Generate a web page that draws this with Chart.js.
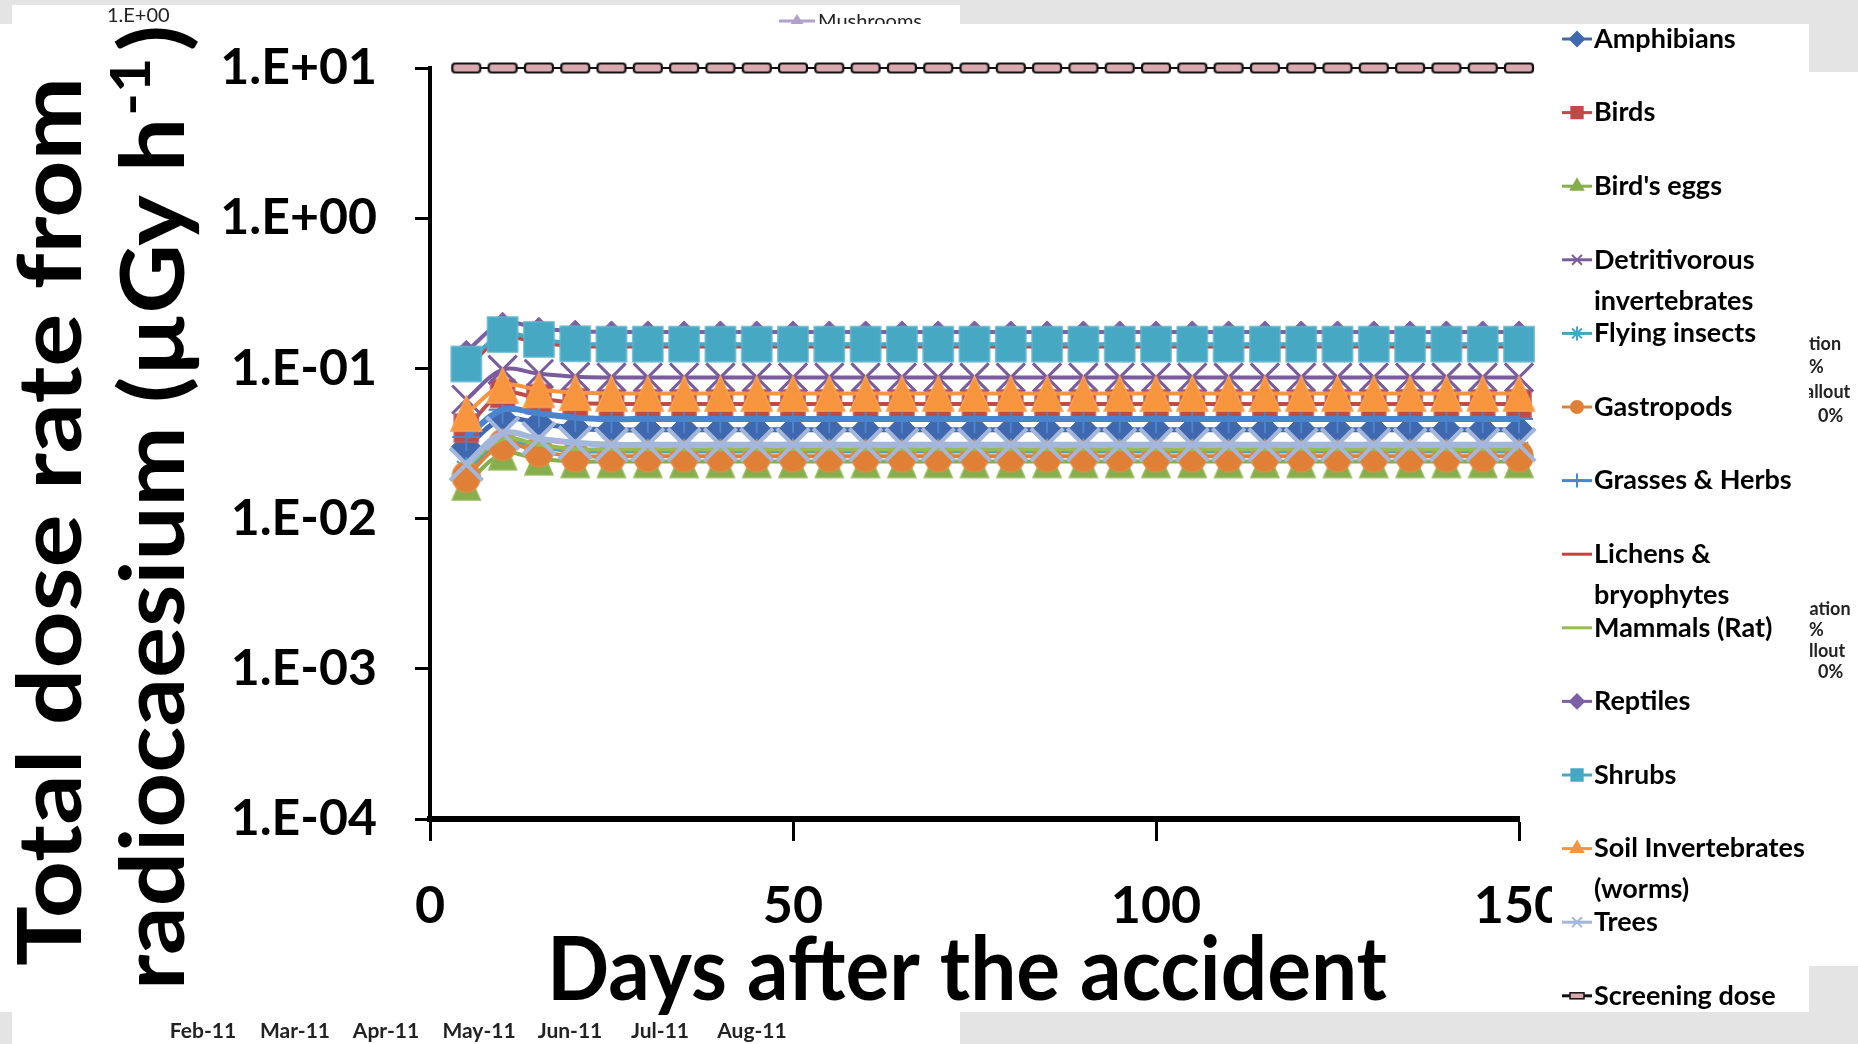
<!DOCTYPE html>
<html>
<head>
<meta charset="utf-8">
<script src="https://cdn.jsdelivr.net/npm/chart.js@4.4.1/dist/chart.umd.min.js"></script>
<style>
html, body { margin: 0; padding: 0; background: #e4e4e4; overflow: hidden; }
canvas { display: block; }
</style>
</head>
<body>
<canvas id="graficaDosis" width="1858" height="1044"></canvas>
<script>
// Días después del accidente (un punto cada 5 días)
const dias = [5, 10, 15, 20, 25, 30, 35, 40, 45, 50,
              55, 60, 65, 70, 75, 80, 85, 90, 95, 100,
              105, 110, 115, 120, 125, 130, 135, 140, 145, 150];

// Tasa de dosis total (µGy/h)
const amphibians = [0.030, 0.046, 0.043, 0.040, 0.039, 0.039, 0.039, 0.039, 0.039, 0.039,
                    0.039, 0.039, 0.039, 0.039, 0.039, 0.039, 0.039, 0.039, 0.039, 0.039,
                    0.039, 0.039, 0.039, 0.039, 0.039, 0.039, 0.039, 0.039, 0.039, 0.039];
const birds = [0.040, 0.068, 0.063, 0.059, 0.058, 0.058, 0.058, 0.058, 0.058, 0.058,
               0.058, 0.058, 0.058, 0.058, 0.058, 0.058, 0.058, 0.058, 0.058, 0.058,
               0.058, 0.058, 0.058, 0.058, 0.058, 0.058, 0.058, 0.058, 0.058, 0.058];
const birdsEggs = [0.017, 0.027, 0.025, 0.024, 0.024, 0.024, 0.024, 0.024, 0.024, 0.024,
                   0.024, 0.024, 0.024, 0.024, 0.024, 0.024, 0.024, 0.024, 0.024, 0.024,
                   0.024, 0.024, 0.024, 0.024, 0.024, 0.024, 0.024, 0.024, 0.024, 0.024];
const detritivorous = [0.062, 0.098, 0.092, 0.088, 0.087, 0.087, 0.087, 0.087, 0.087, 0.087,
                       0.087, 0.087, 0.087, 0.087, 0.087, 0.087, 0.087, 0.087, 0.087, 0.087,
                       0.087, 0.087, 0.087, 0.087, 0.087, 0.087, 0.087, 0.087, 0.087, 0.087];
const flyingInsects = [0.021, 0.032, 0.030, 0.028, 0.028, 0.028, 0.028, 0.028, 0.028, 0.028,
                       0.028, 0.028, 0.028, 0.028, 0.028, 0.028, 0.028, 0.028, 0.028, 0.028,
                       0.028, 0.028, 0.028, 0.028, 0.028, 0.028, 0.028, 0.028, 0.028, 0.028];
const gastropods = [0.019, 0.031, 0.028, 0.026, 0.026, 0.026, 0.026, 0.026, 0.026, 0.026,
                    0.026, 0.026, 0.026, 0.026, 0.026, 0.026, 0.026, 0.026, 0.026, 0.026,
                    0.026, 0.026, 0.026, 0.026, 0.026, 0.026, 0.026, 0.026, 0.026, 0.026];
const grasses = [0.035, 0.053, 0.050, 0.047, 0.046, 0.046, 0.046, 0.046, 0.046, 0.046,
                 0.046, 0.046, 0.046, 0.046, 0.046, 0.046, 0.046, 0.046, 0.046, 0.046,
                 0.046, 0.046, 0.046, 0.046, 0.046, 0.046, 0.046, 0.046, 0.046, 0.046];
const lichens = [0.100, 0.160, 0.148, 0.141, 0.140, 0.140, 0.140, 0.140, 0.140, 0.140,
                 0.140, 0.140, 0.140, 0.140, 0.140, 0.140, 0.140, 0.140, 0.140, 0.140,
                 0.140, 0.140, 0.140, 0.140, 0.140, 0.140, 0.140, 0.140, 0.140, 0.140];
const mammals = [0.022, 0.034, 0.031, 0.029, 0.029, 0.029, 0.029, 0.029, 0.029, 0.029,
                 0.029, 0.029, 0.029, 0.029, 0.029, 0.029, 0.029, 0.029, 0.029, 0.029,
                 0.029, 0.029, 0.029, 0.029, 0.029, 0.029, 0.029, 0.029, 0.029, 0.029];
const reptiles = [0.130, 0.200, 0.185, 0.177, 0.175, 0.175, 0.175, 0.175, 0.175, 0.175,
                  0.175, 0.175, 0.175, 0.175, 0.175, 0.175, 0.175, 0.175, 0.175, 0.175,
                  0.175, 0.175, 0.175, 0.175, 0.175, 0.175, 0.175, 0.175, 0.175, 0.175];
const shrubs = [0.107, 0.168, 0.156, 0.146, 0.145, 0.145, 0.145, 0.145, 0.145, 0.145,
                0.145, 0.145, 0.145, 0.145, 0.145, 0.145, 0.145, 0.145, 0.145, 0.145,
                0.145, 0.145, 0.145, 0.145, 0.145, 0.145, 0.145, 0.145, 0.145, 0.145];
const soilInvertebrates = [0.050, 0.077, 0.072, 0.069, 0.068, 0.068, 0.068, 0.068, 0.068, 0.068,
                           0.068, 0.068, 0.068, 0.068, 0.068, 0.068, 0.068, 0.068, 0.068, 0.068,
                           0.068, 0.068, 0.068, 0.068, 0.068, 0.068, 0.068, 0.068, 0.068, 0.068];
const trees = [0.023, 0.037, 0.034, 0.032, 0.031, 0.031, 0.031, 0.031, 0.031, 0.031,
               0.031, 0.031, 0.031, 0.031, 0.031, 0.031, 0.031, 0.031, 0.031, 0.031,
               0.031, 0.031, 0.031, 0.031, 0.031, 0.031, 0.031, 0.031, 0.031, 0.031];
const screeningDose = [10, 10, 10, 10, 10, 10, 10, 10, 10, 10,
                       10, 10, 10, 10, 10, 10, 10, 10, 10, 10,
                       10, 10, 10, 10, 10, 10, 10, 10, 10, 10];

const nombresSeries = ['Amphibians', 'Birds', "Bird's eggs", 'Detritivorous invertebrates',
    'Flying insects', 'Gastropods', 'Grasses & Herbs', 'Lichens & bryophytes',
    'Mammals (Rat)', 'Reptiles', 'Shrubs', 'Soil Invertebrates (worms)', 'Trees', 'Screening dose'];
const valoresSeries = [amphibians, birds, birdsEggs, detritivorous, flyingInsects, gastropods,
    grasses, lichens, mammals, reptiles, shrubs, soilInvertebrates, trees, screeningDose];

const yTicks = [1e-4, 1e-3, 1e-2, 1e-1, 1, 10];
const yTickLabels = ['1.E-04', '1.E-03', '1.E-02', '1.E-01', '1.E+00', '1.E+01'];
const xTicks = [0, 50, 100, 150];

// Textos sueltos de la diapositiva que queda debajo
const mesesFondo = ['Feb-11', 'Mar-11', 'Apr-11', 'May-11', 'Jun-11', 'Jul-11', 'Aug-11'];

// Marcadores algo más altos que anchos, como en la imagen original
function crearMarca(ancho, alto, relleno, borde, forma) {
    const cv = document.createElement('canvas');
    cv.width = ancho + 4;
    cv.height = alto + 4;
    const m = cv.getContext('2d');
    m.fillStyle = relleno;
    m.strokeStyle = borde;
    m.lineWidth = forma === 'pastilla' ? 2.2 : 1.5;
    m.beginPath();
    if (forma === 'rect') {
        m.rect(2, 2, ancho, alto);
    } else if (forma === 'tri') {
        m.moveTo(2 + ancho / 2, 2);
        m.lineTo(2 + ancho, 2 + alto);
        m.lineTo(2, 2 + alto);
        m.closePath();
    } else if (forma === 'elipse') {
        m.ellipse(2 + ancho / 2, 2 + alto / 2, ancho / 2, alto / 2, 0, 0, Math.PI * 2);
    } else {
        if (m.roundRect) m.roundRect(2, 2, ancho, alto, 3); else m.rect(2, 2, ancho, alto);
    }
    m.fill();
    m.stroke();
    return cv;
}

// Estilos de cada serie (mismo orden que nombresSeries)
const estilos = [
    { color: '#3F68AE', punto: 'rectRot', radio: 15, grosor: 5, borde: 1, ley: 'rectRot' },
    { color: '#BE4B48', punto: crearMarca(24, 28, '#BE4B48', '#C55A57', 'rect'), radio: 6, grosor: 4, borde: 1, ley: 'rect' },
    { color: '#86AE4C', punto: crearMarca(28, 32, '#86AE4C', '#93B85A', 'tri'), radio: 6, grosor: 4, borde: 1, ley: 'triangle' },
    { color: '#7A5C9E', punto: 'crossRot', radio: 20, grosor: 4, borde: 3, ley: 'crossRot' },
    { color: '#45A5C2', punto: 'star', radio: 13, grosor: 4, borde: 2, ley: 'star' },
    { color: '#E07F36', punto: crearMarca(28, 31, '#E07F36', '#E58A45', 'elipse'), radio: 6, grosor: 4, borde: 1, ley: 'circle' },
    { color: '#4A84CC', punto: 'cross', radio: 14, grosor: 6, borde: 2, ley: 'cross' },
    { color: '#C8413D', punto: 'circle', radio: 0, grosor: 4, borde: 0, ley: null },
    { color: '#98BA55', punto: 'circle', radio: 0, grosor: 4, borde: 0, ley: null },
    { color: '#7D5FA6', punto: 'rectRot', radio: 11, grosor: 4, borde: 1, ley: 'rectRot' },
    { color: '#47A8C4', punto: crearMarca(30, 35, '#47A8C4', '#5BB4CC', 'rect'), radio: 6, grosor: 4, borde: 1, ley: 'rect' },
    { color: '#F7953F', punto: crearMarca(31, 35, '#F7953F', '#F9A050', 'tri'), radio: 6, grosor: 4, borde: 1, ley: 'triangle' },
    { color: '#A3B6DB', punto: 'crossRot', radio: 23, grosor: 6, borde: 4, ley: 'crossRot' },
    { color: '#111111', punto: crearMarca(28, 9, '#D9A9AF', '#111', 'pastilla'), radio: 6, grosor: 2, borde: 1, ley: 'pastilla' }
];

const N = nombresSeries.length;
const datasets = valoresSeries.map(function(vals, i) {
    const e = estilos[i];
    return {
        label: nombresSeries[i],
        data: vals.map((v, j) => ({ x: dias[j], y: v })),
        borderColor: e.color,
        backgroundColor: e.color,
        borderWidth: e.grosor,
        pointStyle: e.punto,
        pointRadius: e.radio,
        pointBackgroundColor: e.color,
        pointBorderColor: e.color,
        pointBorderWidth: e.borde,
        tension: i === N - 1 ? 0 : 0.35,
        clip: false,
        order: N - i // las series posteriores quedan encima, como en Excel
    };
});

// Texto estirado para ocupar un ancho dado
function textoAjustado(c, txt, x, y, ancho, rot) {
    c.save();
    c.translate(x, y);
    if (rot) c.rotate(rot);
    const k = ancho / c.measureText(txt).width;
    c.scale(k, 1);
    c.fillText(txt, 0, 0);
    c.restore();
    return k;
}

function partirTexto(c, txt, maxAncho) {
    const palabras = txt.split(' ');
    const lineas = [];
    let actual = '';
    palabras.forEach(function(p) {
        const prueba = actual ? actual + ' ' + p : p;
        if (actual && c.measureText(prueba).width > maxAncho) {
            lineas.push(actual);
            actual = p;
        } else {
            actual = prueba;
        }
    });
    if (actual) lineas.push(actual);
    return lineas;
}

const fondoDiapositiva = {
    id: 'fondoDiapositiva',
    beforeDraw(chart) {
        const c = chart.ctx;
        c.save();
        c.fillStyle = '#e4e4e4';
        c.fillRect(0, 0, chart.width, chart.height);
        c.fillStyle = '#ffffff';
        c.fillRect(12, 5, 948, 1039);
        c.fillRect(1809, 72, 49, 894);

        // restos del gráfico de abajo
        c.fillStyle = '#222';
        c.textBaseline = 'middle';
        c.font = '20px Lato';
        c.fillText('1.E+00', 107, 16);
        c.fillText('Mushrooms', 818, 22);
        c.strokeStyle = '#B1A0C7';
        c.lineWidth = 3;
        c.beginPath(); c.moveTo(779, 21); c.lineTo(815, 21); c.stroke();
        c.fillStyle = '#B1A0C7';
        c.beginPath(); c.moveTo(797, 14); c.lineTo(804, 25); c.lineTo(790, 25); c.fill();

        c.fillStyle = '#222';
        c.font = 'bold 21px Lato';
        c.textAlign = 'center';
        const xMeses = [203, 295, 386, 479, 570, 660, 752];
        mesesFondo.forEach((m, i) => c.fillText(m, xMeses[i], 1031));
        c.textAlign = 'left';
        c.font = 'bold 18px Lato';
        c.fillText('tion', 1809, 344);
        c.fillText('%', 1809, 367);
        c.fillText('allout', 1805, 392);
        c.fillText('0%', 1818, 416);
        c.fillText('lation', 1805, 609);
        c.fillText('%', 1809, 630);
        c.fillText('llout', 1809, 651);
        c.fillText('0%', 1818, 672);

        // lámina blanca del gráfico superpuesto
        c.fillStyle = '#ffffff';
        c.fillRect(0, 24, 1809, 988);
        c.restore();
    },
    afterDraw(chart) {
        const c = chart.ctx;
        const dibujarPunto = Chart.helpers && Chart.helpers.drawPoint;
        c.save();
        // caja de la leyenda (tapa parte del "150")
        c.fillStyle = '#ffffff';
        c.fillRect(1552, 24, 257, 988);

        c.font = 'bold 27px Lato';
        c.textBaseline = 'middle';
        chart.data.datasets.forEach(function(ds, i) {
            const y = 39 + 73.6 * i;
            const ley = estilos[i].ley;
            c.strokeStyle = ds.borderColor;
            c.lineWidth = 3;
            c.beginPath(); c.moveTo(1562, y); c.lineTo(1592, y); c.stroke();
            if (ley === 'pastilla') {
                c.fillStyle = '#D9A9AF';
                c.strokeStyle = '#111';
                c.lineWidth = 1.5;
                c.fillRect(1570, y - 3, 14, 6);
                c.strokeRect(1570, y - 3, 14, 6);
            } else if (ley && dibujarPunto) {
                c.fillStyle = ds.borderColor;
                c.strokeStyle = ds.borderColor;
                c.lineWidth = 2;
                const r = ley === 'rect' ? 8 : (ley === 'circle' ? 6 : 7);
                dibujarPunto(c, { pointStyle: ley, rotation: 0, radius: r, borderWidth: 2 }, 1577, y);
            }
            c.fillStyle = '#000';
            const lineas = partirTexto(c, ds.label, 252);
            lineas.forEach((l, k) => c.fillText(l, 1594, y + k * 41));
        });

        // títulos de los ejes
        c.fillStyle = '#000';
        c.textBaseline = 'alphabetic';
        c.font = 'bold 88px Lato';
        textoAjustado(c, 'Days after the accident', 547, 1000, 840, 0);
        textoAjustado(c, 'Total dose rate from', 81, 966, 889, -Math.PI / 2);
        const k = textoAjustado(c, 'radiocaesium (µGy h', 184, 990, 872, -Math.PI / 2);
        c.save();
        c.translate(184, 990 - 872);
        c.rotate(-Math.PI / 2);
        c.scale(k, 1);
        c.font = 'bold 56px Lato';
        c.fillText('-1', 2, -34);
        const w1 = c.measureText('-1').width;
        c.font = 'bold 88px Lato';
        c.fillText(')', w1 + 8, 0);
        c.restore();
        c.restore();
    }
};

Chart.defaults.font.family = 'Lato';

new Chart(document.getElementById('graficaDosis'), {
    type: 'line',
    data: { datasets: datasets },
    options: {
        responsive: false,
        animation: false,
        events: [],
        layout: { padding: { left: 0, top: 66, right: 339, bottom: 0 } },
        plugins: {
            legend: { display: false },
            tooltip: { enabled: false }
        },
        scales: {
            x: {
                type: 'linear',
                min: 0,
                max: 150,
                afterBuildTicks: s => { s.ticks = xTicks.map(v => ({ value: v })); },
                afterFit: s => { s.height = 225; },
                ticks: { font: { size: 52, weight: 'bold' }, color: '#000', padding: 34, maxRotation: 0, autoSkip: false },
                grid: { drawOnChartArea: false, drawTicks: true, tickLength: 22, tickWidth: 3, tickColor: '#000' },
                border: { color: '#000', width: 6 }
            },
            y: {
                type: 'logarithmic',
                min: 1e-4,
                max: 10,
                afterBuildTicks: s => { s.ticks = yTicks.map(v => ({ value: v })); },
                afterFit: s => { s.width = 430; },
                ticks: {
                    callback: v => yTickLabels[yTicks.indexOf(v)],
                    font: { size: 50, weight: 'bold' }, color: '#000', padding: 38, autoSkip: false
                },
                grid: { drawOnChartArea: false, drawTicks: true, tickLength: 15, tickWidth: 3, tickColor: '#000' },
                border: { color: '#000', width: 4 }
            }
        }
    },
    plugins: [fondoDiapositiva]
});
</script>
</body>
</html>
